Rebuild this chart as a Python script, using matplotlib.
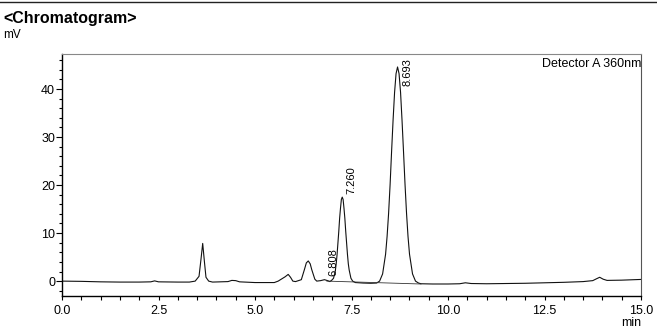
import matplotlib
matplotlib.use("Agg")
import matplotlib.pyplot as plt
from matplotlib.lines import Line2D
from matplotlib.ticker import MultipleLocator

plt.rcParams["font.family"] = ["Liberation Sans", "DejaVu Sans"]

# trace (time in min, signal in mV)
time_min = [0.0, 0.5, 1.0, 1.5, 2.0, 2.3, 2.4, 2.5, 3.0, 3.3, 3.45, 3.55, 3.6, 3.645,
            3.69, 3.73, 3.8, 3.9, 4.3, 4.4, 4.5, 4.6, 5.0, 5.5, 5.6, 5.7, 5.78, 5.86,
            5.92, 5.98, 6.05, 6.2, 6.28, 6.33, 6.38, 6.43, 6.47, 6.55, 6.6, 6.7, 6.8,
            6.88, 6.94, 6.99, 7.035, 7.08, 7.1025, 7.125, 7.17, 7.1925, 7.215, 7.2375,
            7.26, 7.2825, 7.305, 7.3275, 7.35, 7.395, 7.4175, 7.44, 7.485, 7.53, 7.6,
            7.8, 8.0, 8.15, 8.228, 8.306, 8.383, 8.422, 8.461, 8.5, 8.538, 8.577,
            8.616, 8.654, 8.693, 8.732, 8.771, 8.809, 8.848, 8.887, 8.926, 8.964,
            9.003, 9.081, 9.158, 9.236, 9.3, 9.6, 10.0, 10.3, 10.45, 10.6, 11.0, 11.5,
            12.0, 12.5, 13.0, 13.5, 13.75, 13.85, 13.93, 14.02, 14.12, 14.5, 15.0]
signal_mv = [0.0, -0.05, -0.15, -0.2, -0.2, -0.15, 0.05, -0.15, -0.2, -0.2, 0.0, 1.0, 4.5, 7.85,
             4.0, 0.8, 0.0, -0.2, -0.1, 0.15, 0.1, -0.15, -0.3, -0.3, 0.0, 0.5, 0.9, 1.4,
             0.8, 0.0, -0.1, 0.3, 2.4, 3.8, 4.2, 3.6, 2.4, 0.4, 0.0, 0.1, 0.3,
             0.1, -0.1, 0.2, 0.6, 2.1, 3.55, 5.4, 10.3, 13.1, 15.2, 17.0,
             17.5, 17.0, 15.2, 13.1, 10.4, 5.6, 3.6, 2.3, 0.6, 0.0, -0.3,
             -0.4, -0.45, -0.4, 0.0, 1.5, 5.6, 9.3, 14.1, 20.1, 26.9, 33.5,
             39.3, 43.2, 44.6, 43.2, 39.3, 33.5, 26.9, 20.1, 14.1, 9.3,
             5.6, 1.5, 0.0, -0.4, -0.55, -0.6, -0.6, -0.55, -0.35, -0.5, -0.55, -0.5,
             -0.45, -0.35, -0.25, -0.1, 0.1, 0.5, 0.8, 0.4, 0.15, 0.2, 0.35]

# integration baseline under the labelled peaks
base_time = [6.86, 9.3]
base_mv = [0.0, -0.6]

# labelled peaks
peak_rt = [6.808, 7.260, 8.693]
peak_height = [0.3, 17.5, 44.6]
peak_label = ["6.808", "7.260", "8.693"]

fig = plt.figure(figsize=(6.57, 3.34), dpi=100)
ax = fig.add_axes([62 / 657, 1 - 296 / 334, 579 / 657, 242 / 334])

ax.plot(time_min, signal_mv, color="#111111", lw=0.8)
ax.plot(base_time, base_mv, color="#333333", lw=0.6)

ax.set_xlim(0, 15)
ax.set_ylim(-3.1, 47.3)
ax.xaxis.set_major_locator(MultipleLocator(2.5))
ax.xaxis.set_minor_locator(MultipleLocator(0.5))
ax.yaxis.set_major_locator(MultipleLocator(10))
ax.yaxis.set_minor_locator(MultipleLocator(2))
ax.xaxis.set_major_formatter(lambda v, p: f"{v:.1f}")
ax.tick_params(axis="x", which="both", length=3.2, width=0.8, labelsize=9, pad=3)
ax.tick_params(axis="y", which="major", length=4, width=0.8, labelsize=9, pad=1)
ax.tick_params(axis="y", which="minor", length=2.4, width=0.8)

ax.spines["left"].set_linewidth(1.0)
ax.spines["bottom"].set_linewidth(1.0)
ax.spines["top"].set_color("#888888")
ax.spines["top"].set_linewidth(0.8)
ax.spines["right"].set_color("#555555")
ax.spines["right"].set_linewidth(0.8)

top = ax.get_ylim()[1]
for rt, h, lab in zip(peak_rt, peak_height, peak_label):
    if h + 6 > top:
        ax.text(rt + 0.25, top - 0.8, lab, rotation=90, ha="center", va="top", fontsize=8)
    else:
        ax.text(rt + 0.23, h + 0.7, lab, rotation=90, ha="center", va="bottom", fontsize=8)

ax.text(1.0, 0.985, "Detector A 360nm", transform=ax.transAxes, ha="right", va="top", fontsize=9)

fig.text(3 / 657, 1 - 18 / 334, "<Chromatogram>", fontsize=11.5, fontweight="bold", va="center", ha="left")
fig.text(3 / 657, 1 - 35 / 334, "mV", fontsize=8.5, va="center", ha="left")
fig.text(641 / 657, 1 - 323 / 334, "min", fontsize=9, va="center", ha="right")
fig.add_artist(Line2D([0, 1], [1 - 1.5 / 334, 1 - 1.5 / 334], color="#222222", lw=1.0))

fig.savefig("out.png", dpi=100)
